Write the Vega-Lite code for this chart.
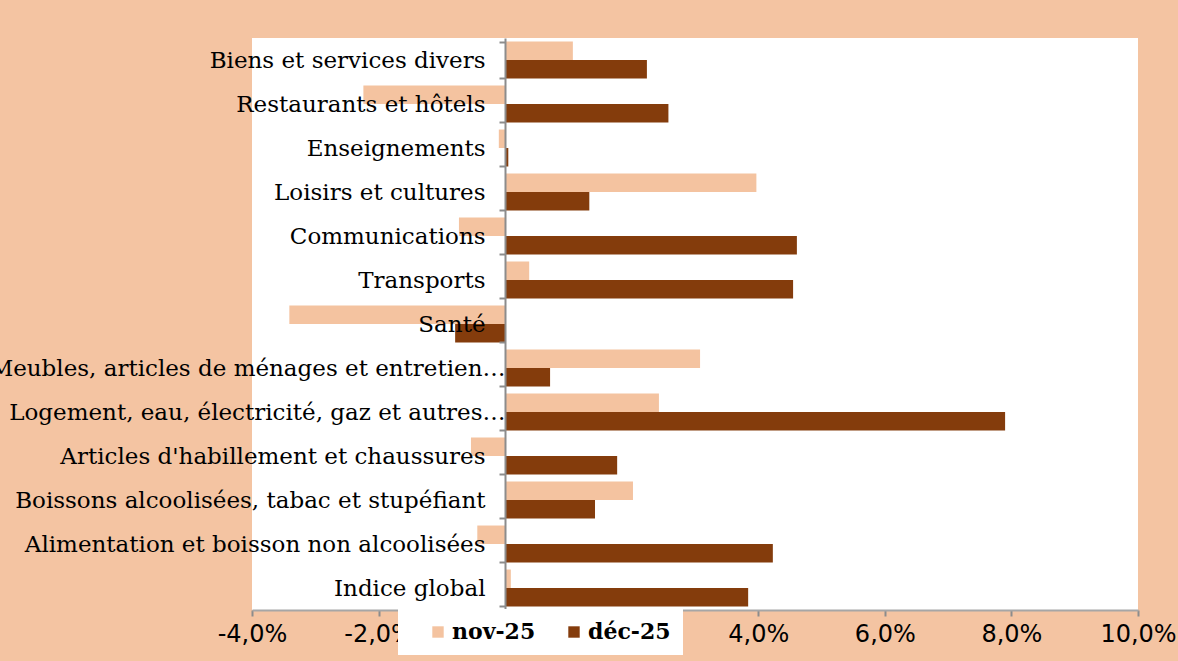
{
  "$schema": "https://vega.github.io/schema/vega-lite/v6.json",
  "width": 886,
  "height": 572,
  "autosize": {"type": "none"},
  "padding": {"left": 252, "top": 38, "right": 40, "bottom": 51},
  "background": "#F4C4A2",
  "config": {
    "view": {"fill": "white", "stroke": null},
    "locale": {"number": {"decimal": ",", "thousands": " ", "grouping": [3], "currency": ["", " €"], "minus": "-", "percent": "%"}}
  },
  "data": {
    "values": [
      {"categorie": "Biens et services divers", "periode": "nov-25", "valeur": 0.0107},
      {"categorie": "Biens et services divers", "periode": "déc-25", "valeur": 0.0224},
      {"categorie": "Restaurants et hôtels", "periode": "nov-25", "valeur": -0.0224},
      {"categorie": "Restaurants et hôtels", "periode": "déc-25", "valeur": 0.0258},
      {"categorie": "Enseignements", "periode": "nov-25", "valeur": -0.0010},
      {"categorie": "Enseignements", "periode": "déc-25", "valeur": 0.0005},
      {"categorie": "Loisirs et cultures", "periode": "nov-25", "valeur": 0.0397},
      {"categorie": "Loisirs et cultures", "periode": "déc-25", "valeur": 0.0133},
      {"categorie": "Communications", "periode": "nov-25", "valeur": -0.0073},
      {"categorie": "Communications", "periode": "déc-25", "valeur": 0.0461},
      {"categorie": "Transports", "periode": "nov-25", "valeur": 0.0038},
      {"categorie": "Transports", "periode": "déc-25", "valeur": 0.0455},
      {"categorie": "Santé", "periode": "nov-25", "valeur": -0.0341},
      {"categorie": "Santé", "periode": "déc-25", "valeur": -0.0079},
      {"categorie": "Meubles, articles de ménages et entretien…", "periode": "nov-25", "valeur": 0.0308},
      {"categorie": "Meubles, articles de ménages et entretien…", "periode": "déc-25", "valeur": 0.0071},
      {"categorie": "Logement, eau, électricité, gaz et autres…", "periode": "nov-25", "valeur": 0.0243},
      {"categorie": "Logement, eau, électricité, gaz et autres…", "periode": "déc-25", "valeur": 0.0790},
      {"categorie": "Articles d'habillement et chaussures", "periode": "nov-25", "valeur": -0.0054},
      {"categorie": "Articles d'habillement et chaussures", "periode": "déc-25", "valeur": 0.0177},
      {"categorie": "Boissons alcoolisées, tabac et stupéfiant", "periode": "nov-25", "valeur": 0.0202},
      {"categorie": "Boissons alcoolisées, tabac et stupéfiant", "periode": "déc-25", "valeur": 0.0142},
      {"categorie": "Alimentation et boisson non alcoolisées", "periode": "nov-25", "valeur": -0.0044},
      {"categorie": "Alimentation et boisson non alcoolisées", "periode": "déc-25", "valeur": 0.0423},
      {"categorie": "Indice global", "periode": "nov-25", "valeur": 0.0009},
      {"categorie": "Indice global", "periode": "déc-25", "valeur": 0.0384}
    ]
  },
  "mark": {"type": "bar"},
  "encoding": {
    "y": {
      "field": "categorie",
      "type": "nominal",
      "sort": ["Biens et services divers", "Restaurants et hôtels", "Enseignements", "Loisirs et cultures", "Communications", "Transports", "Santé", "Meubles, articles de ménages et entretien…", "Logement, eau, électricité, gaz et autres…", "Articles d'habillement et chaussures", "Boissons alcoolisées, tabac et stupéfiant", "Alimentation et boisson non alcoolisées", "Indice global"],
      "scale": {"paddingInner": 0.16, "paddingOuter": 0.08},
      "axis": {
        "title": null,
        "offset": -253,
        "tickBand": "extent",
        "labelFont": "DejaVu Serif",
        "labelFontSize": 23,
        "labelColor": "black",
        "labelPadding": {"condition": {"test": "indexof(datum.label, '…') >= 0", "value": -6}, "value": 14},
        "labelLimit": 0,
        "tickSize": 6,
        "domainColor": "#8c8c8c",
        "tickColor": "#8c8c8c",
        "domainWidth": 2,
        "tickWidth": 2,
        "zindex": 1
      }
    },
    "x": {
      "field": "valeur",
      "type": "quantitative",
      "scale": {"domain": [-0.04, 0.10], "nice": false},
      "axis": {
        "title": null,
        "values": [-0.04, -0.02, 0, 0.02, 0.04, 0.06, 0.08, 0.10],
        "format": ".1%",
        "grid": false,
        "labelFlush": false,
        "labelOverlap": false,
        "labelFont": "DejaVu Sans",
        "labelFontSize": 24,
        "labelColor": "black",
        "labelPadding": 6,
        "tickSize": 6,
        "domainColor": "#a6a6a6",
        "tickColor": "#8c8c8c",
        "domainWidth": 2,
        "tickWidth": 2
      }
    },
    "yOffset": {"field": "periode", "sort": ["nov-25", "déc-25"], "scale": {"paddingInner": 0, "paddingOuter": 0}},
    "color": {
      "field": "periode",
      "type": "nominal",
      "sort": ["nov-25", "déc-25"],
      "scale": {"domain": ["nov-25", "déc-25"], "range": ["#F4C3A0", "#843C0C"]},
      "legend": {
        "title": null,
        "orient": "none",
        "legendX": 146,
        "legendY": 571,
        "direction": "horizontal",
        "fillColor": "white",
        "padding": 12,
        "symbolType": "square",
        "symbolSize": 130,
        "symbolStrokeWidth": 0,
        "symbolOffset": 17,
        "labelFont": "DejaVu Serif",
        "labelFontWeight": "bold",
        "labelFontSize": 22,
        "labelColor": "black",
        "labelOffset": 3,
        "labelExpr": "datum.label == 'déc-25' ? datum.label + '\u2003\u2002' : datum.label + '\u2003'",
        "columnPadding": 10,
        "zindex": 2
      }
    }
  }
}
